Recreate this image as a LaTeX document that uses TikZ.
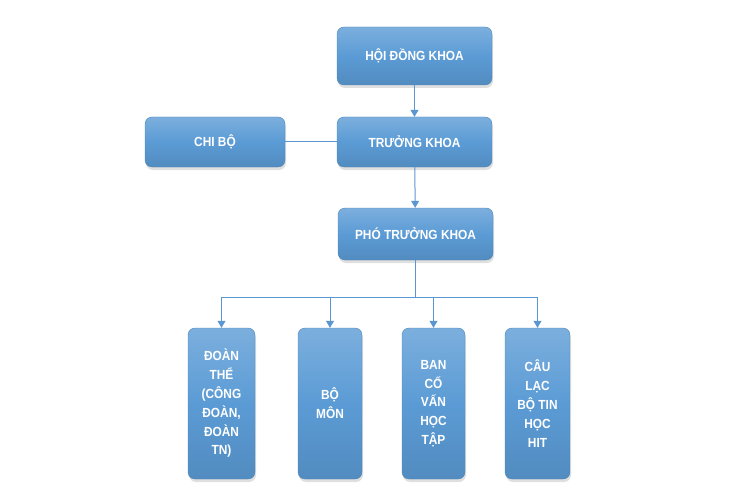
\documentclass[tikz,border=0pt]{standalone}
\usepackage{fontspec}
\setmainfont{Liberation Sans}[FakeStretch=0.9]
\usetikzlibrary{shadows,arrows.meta}
\definecolor{boxblue}{HTML}{5B9BD5}
\definecolor{linkblue}{HTML}{5A97D2}

\begin{document}
\begin{tikzpicture}[x=1pt,y=-1pt,
box/.style={rounded corners=7pt,top color=boxblue!80!white,bottom color=boxblue!90!black,
 middle color=boxblue,draw=boxblue!85!black,line width=.4pt,
 text=white,font=\fontsize{13.2}{18.8}\selectfont\bfseries,align=center,
 drop shadow={shadow xshift=1pt,shadow yshift=-3pt,opacity=.25}},
link/.style={draw=linkblue,line width=1pt},
arr/.style={link,-{Triangle[width=8pt,length=7pt]}}]
\useasboundingbox (0,0) rectangle (756,503);
\node[box,minimum width=155pt,minimum height=58pt] (HD) at (414.5,56) {HỘI ĐỒNG KHOA};
\node[box,minimum width=155pt,minimum height=50pt] (TK) at (414.5,142) {TRƯỞNG KHOA};
\node[box,minimum width=140pt,minimum height=50pt] (CB) at (215,142) {CHI BỘ};
\node[box,minimum width=155pt,minimum height=52pt] (PTK) at (415.5,234) {PHÓ TRƯỞNG KHOA};
% hang
\node[box,minimum width=67pt,minimum height=151pt] (B1) at (221.5,403.5) {ĐOÀN\\THỂ\\(CÔNG\\ĐOÀN,\\ĐOÀN\\TN)};
\node[box,minimum width=64pt,minimum height=151pt] (B2) at (330,403.5) {BỘ\\MÔN};
\node[box,minimum width=63pt,minimum height=151pt] (B3) at (433.5,403.5) {BAN\\CỐ\\VẤN\\HỌC\\TẬP};
\node[box,minimum width=65pt,minimum height=151pt] (B4) at (537.5,403.5) {CÂU\\LẠC\\BỘ TIN\\HỌC\\HIT};
\draw[arr] (HD) -- (TK);
\draw[arr] (TK) -- (PTK);
\draw[link] (CB) -- (TK);
\draw[link] (PTK.south) -- ++(0,37) coordinate (bus);
\foreach \n in {B1,B2,B3,B4}{
\draw[arr] (bus) -| (\n.north);
}
\end{tikzpicture}
\end{document}
